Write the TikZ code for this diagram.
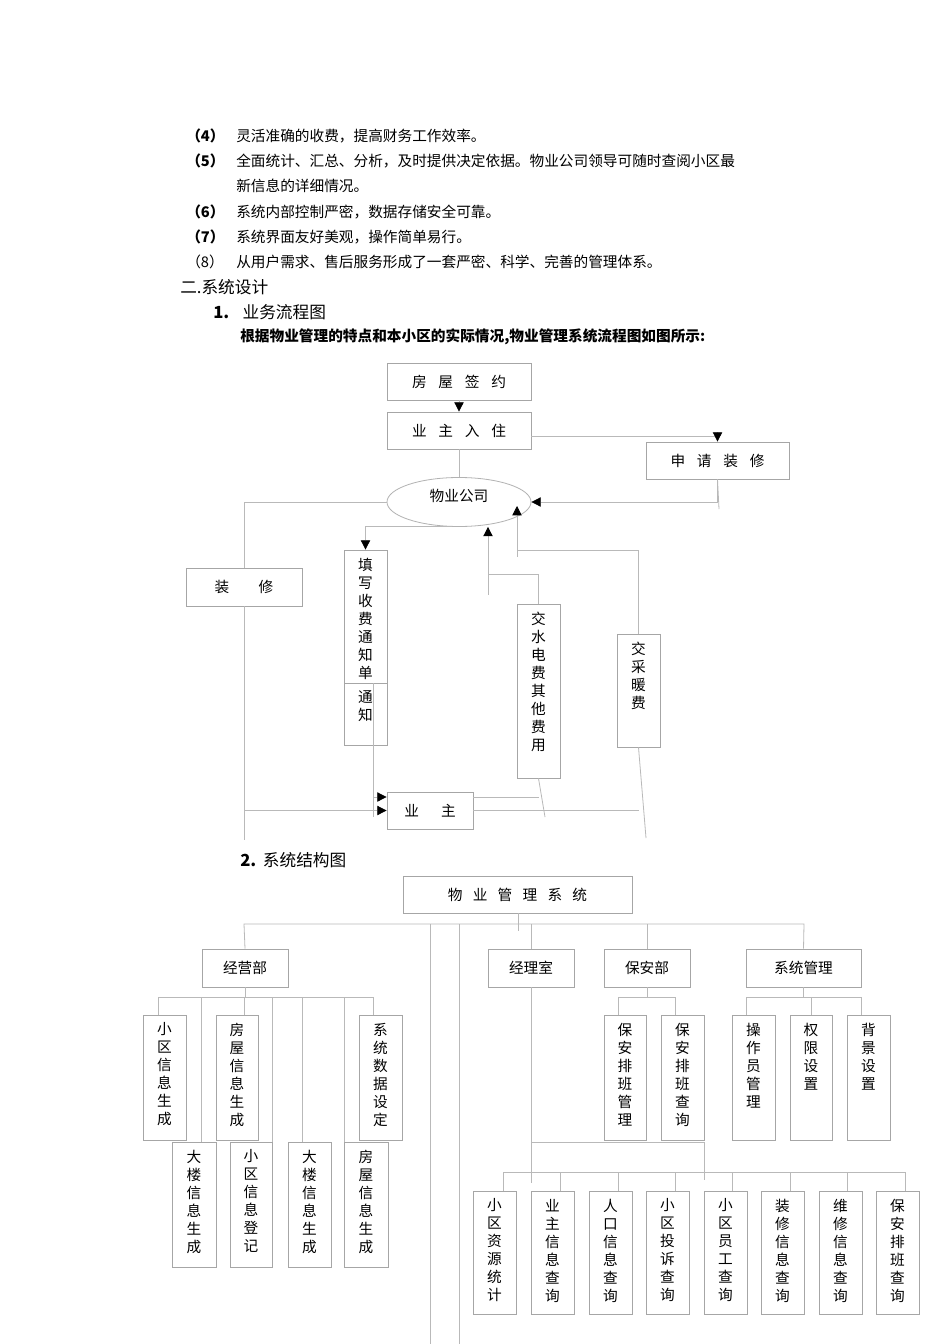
\documentclass[tikz,border=0pt]{standalone}
\usepackage{fontspec}
\setmainfont{Noto Sans CJK SC}
\usetikzlibrary{arrows.meta,fit,shapes.geometric}
\tikzset{
 bx/.style={draw=gray!70,line width=0.6pt,inner sep=0pt},
 ln/.style={draw=gray!55,line width=0.6pt},
 arr/.style={ln,-{Triangle[length=7pt,width=7pt,fill=black,color=black]}},
 tx/.style={font=\fontsize{11}{13.5}\selectfont,align=center,inner sep=0pt},
 para/.style={font=\fontsize{11}{14}\selectfont,anchor=west,inner sep=0pt},
}
\newcommand\bx[6]{\node[bx,fit={(#2,#3)(#4,#5)}] (#1) {};\node[tx] at (#1.center) {#6};}
\newcommand\vb[6]{\node[bx,fit={(#2,#3)(#4,#5)}] (#1) {};\node[tx,anchor=north] at ([yshift=-6pt]#1.north) {#6};}
\begin{document}
\begin{tikzpicture}[x=0.75pt,y=-0.75pt]
\useasboundingbox[fill=white] (0,0) rectangle (950,1344);
% text
\node[para] (p4a) at (186,136) {\bfseries（4）}; \node[para] (p4) at (236,136) {灵活准确的收费，提高财务工作效率。};
\node[para] (p5a) at (186,161) {\bfseries（5）}; \node[para] (p5) at (236,161) {全面统计、汇总、分析，及时提供决定依据。物业公司领导可随时查阅小区最};
\node[para] (p5b) at (236,186) {新信息的详细情况。};
\node[para] (p6a) at (186,212) {\bfseries（6）}; \node[para] (p6) at (236,212) {系统内部控制严密，数据存储安全可靠。};
\node[para] (p7a) at (186,237) {\bfseries（7）}; \node[para] (p7) at (236,237) {系统界面友好美观，操作简单易行。};
\node[para] (p8a) at (186,262) {（8）}; \node[para] (p8) at (236,262) {从用户需求、售后服务形成了一套严密、科学、完善的管理体系。};
\node[para,font=\fontsize{12.5}{14}\selectfont] (h2) at (180,287) {二.系统设计};
\node[para,font=\fontsize{12.5}{14}\selectfont] (h21) at (213,312) {\bfseries 1.\hspace{0.8em}\mdseries 业务流程图};
\node[para] (h21t) at (240,337) {\bfseries 根据物业管理的特点和本小区的实际情况,物业管理系统流程图如图所示:};
\node[para,font=\fontsize{12.5}{14}\selectfont] (h22) at (240,860) {\bfseries 2.\hspace{0.4em}\mdseries 系统结构图};
% flowchart
\bx{fwqy}{387}{363}{531}{400}{房\hspace{0.8em}屋\hspace{0.8em}签\hspace{0.8em}约}
\bx{yzrz}{387}{412}{531}{449}{业\hspace{0.8em}主\hspace{0.8em}入\hspace{0.8em}住}
\bx{sqzx}{646}{442}{789}{479}{申\hspace{0.8em}请\hspace{0.8em}装\hspace{0.8em}修}
\node[ellipse,draw=gray!60,line width=0.6pt,minimum width=144pt*0.75,minimum height=49pt*0.75] (wygs) at (459,502) {};
\node[tx] at (459,496) {物业公司};
\bx{zx}{186}{568}{302}{606}{装\hspace{2em}修}
\vb{txsf}{344}{550}{387}{683}{填\\写\\收\\费\\通\\知\\单}
\vb{tz}{344}{683}{387}{745}{通\\知}
\vb{jsd}{517}{604}{560}{778}{交\\水\\电\\费\\其\\他\\费\\用}
\vb{jcn}{617}{634}{660}{747}{交\\采\\暖\\费}
\bx{yz}{387}{792}{473}{829}{业\hspace{1.5em}主}
\coordinate (c1) at (373,683); \coordinate (c2) at (373,817);
\coordinate (c3) at (373,797); \coordinate (c4) at (244,840);
\coordinate (c5) at (488,574); \coordinate (c6) at (488,595);
\coordinate (c7) at (517,550); \coordinate (c8) at (517,557);
\coordinate (c9) at (545,817); \coordinate (c10) at (646,838);
\coordinate (c11) at (719,509);
\draw[arr] (fwqy) -- (yzrz);
\draw[arr] ([yshift=-4.5pt]yzrz.east) -| (sqzx.north);
\draw[ln] (yzrz) -- (wygs);
\draw[arr] (sqzx.south) |- (wygs.east);
\draw[ln] (sqzx.south) -- (c11);
\draw[ln] (wygs.west) -| (zx.north);
\draw[arr] (zx.south) |- (yz.west);
\draw[ln] (zx.south) -- (c4);
\draw[arr] (wygs.255) -| (txsf.north);
\draw[ln] (c1) -- (c2);
\draw[arr] (c3) -- (yz.west |- c3);
\draw[arr] (jsd.north |- c5) -- (c5) -- (c5 |- wygs.south);
\draw[ln] (jsd.north) -- (jsd.north |- c5);
\draw[ln] (c5) -- (c6);
\draw[arr] (jcn.north) |- (c7) -- ([yshift=-3pt]c7 |- wygs.east);
\draw[ln] (c7) -- (c8);
\draw[ln] (jsd.south) -- (c9);
\draw[ln] (yz.east |- c3) -- (jsd.south |- c3);
\draw[ln] (jcn.south) -- (c10);
\draw[ln] (yz.east) -- (jcn.south |- yz.east);
% structure
\bx{wyxt}{403}{876}{632}{913}{物\hspace{0.7em}业\hspace{0.7em}管\hspace{0.7em}理\hspace{0.7em}系\hspace{0.7em}统}
\bx{jyb}{202}{949}{288}{987}{经营部}
\bx{jls}{488}{949}{574}{987}{经理室}
\bx{bab}{604}{949}{690}{987}{保安部}
\bx{xtgl}{746}{949}{861}{987}{系统管理}
\coordinate (b1) at (518,931); \coordinate (b2) at (244,924); \coordinate (b3) at (804,924);
\coordinate (v1) at (430,924); \coordinate (v1e) at (430,1344);
\coordinate (v2) at (459,924); \coordinate (v2e) at (459,1344);
\draw[ln] (wyxt.south -| b1) -- (b1);
\draw[ln] (jyb.north) -- (b2) -- (b3) -- (xtgl.north);
\draw[ln] (jls.north) -- (jls.north |- b2);
\draw[ln] (bab.north) -- (bab.north |- b2);
\draw[ln] (v1) -- (v1e); \draw[ln] (v2) -- (v2e);
% jingying children
\vb{a1}{143}{1015}{186}{1140}{小\\区\\信\\息\\生\\成}
\vb{a2}{216}{1015}{258}{1140}{房\\屋\\信\\息\\生\\成}
\vb{a3}{359}{1015}{402}{1140}{系\\统\\数\\据\\设\\定}
\vb{a4}{172}{1142}{216}{1267}{大\\楼\\信\\息\\生\\成}
\vb{a5}{230}{1142}{272}{1267}{小\\区\\信\\息\\登\\记}
\vb{a6}{288}{1142}{331}{1267}{大\\楼\\信\\息\\生\\成}
\vb{a7}{344}{1142}{388}{1267}{房\\屋\\信\\息\\生\\成}
\coordinate (jb) at (158,997); \coordinate (jb2) at (373,997);
\draw[ln] (jyb.south) -- (jyb.south |- jb);
\draw[ln] (jb) -- (jb2);
\draw[ln] (jb) -- (jb |- a1.north);
\draw[ln] (201,997) -- (201,1142);
\draw[ln] (244,997) -- (244,1015);
\draw[ln] (272,997) -- (272,1142);
\draw[ln] (302,997) -- (302,1142);
\draw[ln] (344,997) -- (344,1142);
\draw[ln] (jb2) -- (jb2 |- a3.north);
% baoan children
\vb{s1}{604}{1015}{646}{1140}{保\\安\\排\\班\\管\\理}
\vb{s2}{661}{1015}{704}{1140}{保\\安\\排\\班\\查\\询}
\coordinate (sb1) at (618,997); \coordinate (sb2) at (675,997);
\draw[ln] (bab.south) -- (bab.south |- sb1);
\draw[ln] (sb1 |- s1.north) -- (sb1) -- (sb2) -- (sb2 |- s2.north);
% xitong children
\vb{x1}{732}{1015}{775}{1140}{操\\作\\员\\管\\理}
\vb{x2}{790}{1015}{832}{1140}{权\\限\\设\\置}
\vb{x3}{847}{1015}{890}{1140}{背\\景\\设\\置}
\coordinate (xb1) at (746,997); \coordinate (xb2) at (861,997);
\draw[ln] (xtgl.south) -- (xtgl.south |- xb1);
\draw[ln] (xb1 |- x1.north) -- (xb1) -- (xb2) -- (xb2 |- x3.north);
\draw[ln] (x2.north) -- (x2.north |- xb1);
% jingli children
\vb{m1}{473}{1191}{516}{1314}{小\\区\\资\\源\\统\\计}
\vb{m2}{531}{1191}{574}{1314}{业\\主\\信\\息\\查\\询}
\vb{m3}{589}{1191}{632}{1314}{人\\口\\信\\息\\查\\询}
\vb{m4}{646}{1191}{689}{1314}{小\\区\\投\\诉\\查\\询}
\vb{m5}{704}{1191}{747}{1314}{小\\区\\员\\工\\查\\询}
\vb{m6}{761}{1191}{804}{1314}{装\\修\\信\\息\\查\\询}
\vb{m7}{819}{1191}{862}{1314}{维\\修\\信\\息\\查\\询}
\vb{m8}{876}{1191}{919}{1314}{保\\安\\排\\班\\查\\询}
\coordinate (mb1) at (531,1142); \coordinate (mb2) at (704,1142);
\coordinate (mb3) at (531,1183); \coordinate (mb4) at (704,1180);
\coordinate (mc1) at (503,1172); \coordinate (mc2) at (905,1172);
\draw[ln] (jls.south) -- (mb3);
\draw[ln] (mb1) -- (mb2) -- (mb4);
\draw[ln] (mc1) -- (mc2);
\foreach \xx in {503,560,618,675,732,790,847,905} \draw[ln] (\xx,1172) -- (\xx,1191);
\end{tikzpicture}
\end{document}
